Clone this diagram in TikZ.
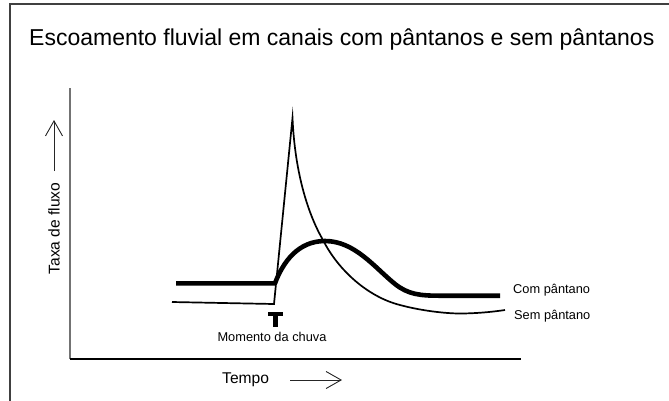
\documentclass[tikz,border=0pt]{standalone}
\usepackage{fontspec}
\setmainfont{Liberation Sans}
\usetikzlibrary{arrows.meta}
\tikzset{
  frameline/.style={draw=black!75, line width=1.5pt},
  yaxisline/.style={draw=black!55, line width=1.4pt},
  xaxisline/.style={draw=black, line width=1.3pt},
  stickarrow/.style={draw=black!85, line width=0.9pt, -{Straight Barb[length=15pt,width=17pt]}},
  thincurve/.style={draw=black, line width=1.7pt, line join=miter, miter limit=20},
  thickcurve/.style={draw=black, line width=4.6pt, line join=round},
  lbl/.style={inner sep=0pt, font=\fontsize{12.8}{14}\selectfont},
  axlbl/.style={inner sep=0pt, font=\fontsize{15.6}{18}\selectfont},
}
\begin{document}
\begin{tikzpicture}[x=1pt,y=-1pt]
\useasboundingbox (0,0) rectangle (669,400);
\fill[white] (0,0) rectangle (669,400);
% frame (cropped)
\draw[frameline] (10,402) -- (10,4) -- (671,4);
% title
\node[anchor=west, inner sep=0pt, font=\fontsize{23}{27}\selectfont] (title) at (29,40) {Escoamento fluvial em canais com pântanos e sem pântanos};
% axes
\coordinate (origin) at (70,359);
\coordinate (ytop) at (70,88);
\coordinate (xend) at (521,359);
\draw[yaxisline] (ytop) -- (origin);
\draw[xaxisline] (origin) -- (xend);
% axis labels and arrows
\node[axlbl, rotate=90] (ylab) at (54,228.5) {Taxa de fluxo};
\coordinate (yarrA) at (54,171);
\coordinate (yarrB) at (54,120);
\draw[stickarrow] (yarrA) -- (yarrB);
\node[axlbl, anchor=west] (xlab) at (222,380) {Tempo};
\coordinate (xarrA) at (290,380);
\coordinate (xarrB) at (342,380);
\draw[stickarrow] (xarrA) -- (xarrB);
% thick curve (com pantano)
\draw[thickcurve] (176,283.3) -- (275,283.3)
  .. controls (283,262) and (298,241) .. (325,241)
  .. controls (355,241) and (375,268) .. (395,284)
  .. controls (408,294.4) and (420,295.7) .. (440,295.7)
  -- (500,295.7);
% thin curve (sem pantano)
\draw[thincurve] (172,302) -- (274,304) -- (292.5,118)
  .. controls (295,175) and (309,216) .. (323,240)
  .. controls (338,270) and (368,297) .. (400,305)
  .. controls (420,310.5) and (445,313.5) .. (460,313.5)
  .. controls (475,313.5) and (492,312) .. (505,310);
% rain marker T
\fill[black] (268,311.5) rectangle (282.5,315.5);
\fill[black] (273,311.5) rectangle (277.5,327);
\node[lbl] (rain) at (272,337) {Momento da chuva};
% legend labels
\node[lbl, anchor=west] (com) at (513,290) {Com pântano};
\node[lbl, anchor=west] (sem) at (514,316) {Sem pântano};
\end{tikzpicture}
\end{document}
